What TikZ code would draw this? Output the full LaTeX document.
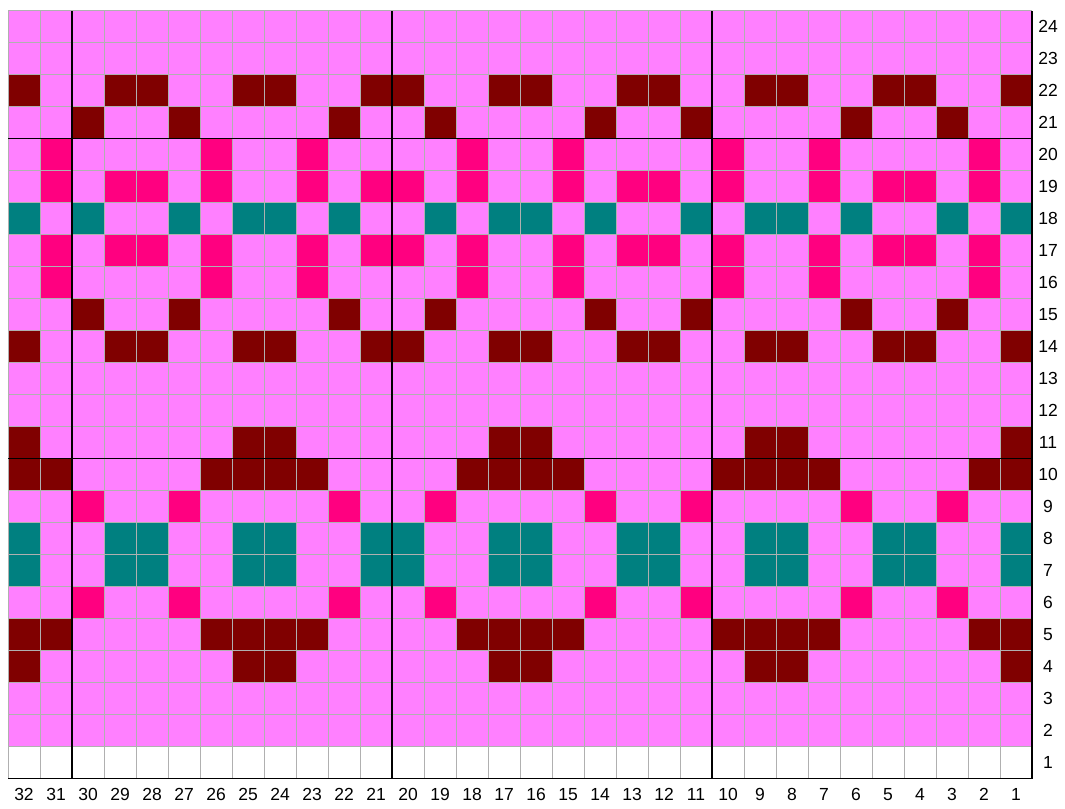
\documentclass[tikz,border=0pt]{standalone}
\usepackage{fontspec}
\setmainfont{Liberation Sans}
\usepackage{tikz}
\definecolor{stitchbg}{HTML}{FF80FF}
\definecolor{maroonst}{HTML}{800000}
\definecolor{rosest}{HTML}{FF0080}
\definecolor{tealst}{HTML}{008080}
\definecolor{gridgray}{HTML}{B0B0B0}
\tikzset{
  maroonbox/.style={fill=maroonst},
  rosebox/.style={fill=rosest},
  tealbox/.style={fill=tealst},
  thingrid/.style={draw=gridgray,line width=1pt},
  repeatline/.style={draw=black,line width=1.6pt},
  rownum/.style={font=\fontsize{17.5}{18}\selectfont,anchor=center,inner sep=0pt}
}
\newcommand{\stitch}[3]{\fill[#1] ({32-#2},{#3-1}) rectangle ++(1,1);}

\begin{document}
\begin{tikzpicture}[x=32pt,y=32pt]
  \useasboundingbox (-0.25,-0.92) rectangle (33.03,24.33);
  % ground colour and the empty first row
  \fill[stitchbg] (0,1) rectangle (32,24);
  \fill[white] (0,0) rectangle (32,1);
  % maroon stitches
  \foreach \rw in {22,14}
    \foreach \cl in {32,29,28,25,24,21,20,17,16,13,12,9,8,5,4,1}
      {\stitch{maroonbox}{\cl}{\rw}}
  \foreach \rw in {21,15}
    \foreach \cl in {30,27,22,19,14,11,6,3}
      {\stitch{maroonbox}{\cl}{\rw}}
  \foreach \rw in {11,4}
    \foreach \cl in {32,25,24,17,16,9,8,1}
      {\stitch{maroonbox}{\cl}{\rw}}
  \foreach \rw in {10,5}
    \foreach \cl in {32,31,26,25,24,23,18,17,16,15,10,9,8,7,2,1}
      {\stitch{maroonbox}{\cl}{\rw}}
  % rose stitches
  \foreach \rw in {20,16}
    \foreach \cl in {31,26,23,18,15,10,7,2}
      {\stitch{rosebox}{\cl}{\rw}}
  \foreach \rw in {19,17}
    \foreach \cl in {31,29,28,26,23,21,20,18,15,13,12,10,7,5,4,2}
      {\stitch{rosebox}{\cl}{\rw}}
  \foreach \rw in {9,6}
    \foreach \cl in {30,27,22,19,14,11,6,3}
      {\stitch{rosebox}{\cl}{\rw}}
  % teal stitches
  \foreach \cl in {32,30,27,25,24,22,19,17,16,14,11,9,8,6,3,1}
    {\stitch{tealbox}{\cl}{18}}
  \foreach \rw in {8,7}
    \foreach \cl in {32,29,28,25,24,21,20,17,16,13,12,9,8,5,4,1}
      {\stitch{tealbox}{\cl}{\rw}}
  % grid and repeat lines
  \draw[thingrid,step={(1,1)}] (0,0) grid (32,24);
  \foreach \cl in {2,12,22}
    \draw[repeatline] (\cl,0) -- (\cl,24);
  \foreach \rw in {10,20}
    \draw[repeatline] (0,\rw) -- (32,\rw);
  \draw[repeatline] (0,0) -- (32,0) -- (32,24);
  % row and stitch numbers
  \foreach \rw in {1,...,24}
    \node[rownum] (row\rw) at (32.5,\rw-0.5) {\rw};
  \foreach \cl in {1,...,32}
    \node[rownum] (col\cl) at (32.5-\cl,-0.5) {\cl};
\end{tikzpicture}
\end{document}
